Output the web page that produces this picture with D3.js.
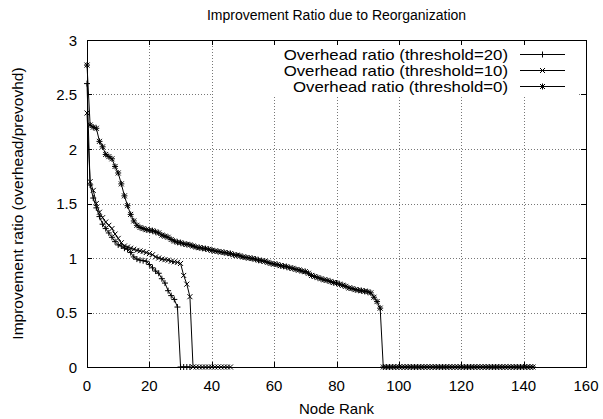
<!DOCTYPE html>
<html>
<head>
<meta charset="utf-8">
<script src="https://cdn.jsdelivr.net/npm/d3@7"></script>
<style>
  html, body { margin: 0; padding: 0; background: #fff; }
  svg { display: block; font-family: "Liberation Sans", Arial, Helvetica, sans-serif; }
</style>
</head>
<body>
<svg id="chart" width="603" height="419"></svg>
<script>
// Improvement ratio per node, sorted by rank (index = node rank)
const ratioT20 = [
  2.60, 1.67, 1.55, 1.46, 1.38, 1.31, 1.27, 1.23, 1.19, 1.15,
  1.12, 1.11, 1.09, 1.08, 1.05, 1.01, 0.99, 0.98, 0.975, 0.97,
  0.94, 0.91, 0.88, 0.86, 0.81, 0.77, 0.70, 0.655, 0.62, 0.55,
  0, 0, 0, 0
];
const ratioT10 = [
  2.33, 1.70, 1.62, 1.50, 1.42, 1.37, 1.33, 1.30, 1.27, 1.22,
  1.18, 1.14, 1.11, 1.10, 1.09, 1.08, 1.07, 1.065, 1.06, 1.05,
  1.04, 1.03, 1.01, 1.00, 0.99, 0.985, 0.98, 0.97, 0.965, 0.96,
  0.95, 0.84, 0.76, 0.645,
  0, 0, 0, 0, 0, 0, 0, 0, 0, 0, 0, 0, 0
];
const ratioT0 = [
  2.77, 2.22, 2.20, 2.19, 2.07, 2.02, 1.95, 1.93, 1.91, 1.84,
  1.78, 1.68, 1.57, 1.48, 1.40, 1.34, 1.30, 1.28, 1.27, 1.26,
  1.255, 1.25, 1.24, 1.23, 1.21, 1.20, 1.19, 1.17, 1.155, 1.145,
  1.14, 1.13, 1.125, 1.12, 1.11, 1.10, 1.095, 1.09, 1.085, 1.08,
  1.07, 1.065, 1.06, 1.055, 1.05, 1.045, 1.04, 1.03, 1.025, 1.02,
  1.01, 1.005, 1.00, 0.995, 0.99, 0.98, 0.975, 0.97, 0.96, 0.95,
  0.945, 0.94, 0.93, 0.925, 0.92, 0.91, 0.905, 0.895, 0.89, 0.88,
  0.875, 0.86, 0.84, 0.83, 0.82, 0.81, 0.80, 0.795, 0.785, 0.775,
  0.77, 0.76, 0.75, 0.74, 0.725, 0.72, 0.71, 0.705, 0.70, 0.695,
  0.69, 0.68, 0.64, 0.60, 0.54,
  0, 0, 0, 0, 0, 0, 0, 0, 0, 0,
  0, 0, 0, 0, 0, 0, 0, 0, 0, 0,
  0, 0, 0, 0, 0, 0, 0, 0, 0, 0,
  0, 0, 0, 0, 0, 0, 0, 0, 0, 0,
  0, 0, 0, 0, 0, 0, 0, 0, 0
];

const xTicks = [0, 20, 40, 60, 80, 100, 120, 140, 160];
const yTicks = [0, 0.5, 1, 1.5, 2, 2.5, 3];
const yTickLabels = ["0", "0.5", "1", "1.5", "2", "2.5", "3"];

const seriesNames = [
  "Overhead ratio (threshold=20)",
  "Overhead ratio (threshold=10)",
  "Overhead ratio (threshold=0)"
];
const seriesValues = [ratioT20, ratioT10, ratioT0];
const seriesMarkers = ["plus", "cross", "star"];

const titleText = "Improvement Ratio due to Reorganization";
const xTitle = "Node Rank";
const yTitle = "Improvement ratio (overhead/prevovhd)";

const svg = d3.select("#chart");
const plotL = 87, plotR = 586, plotT = 40, plotB = 367;

const x = d3.scaleLinear().domain([0, 160]).range([plotL, plotR]);
const y = d3.scaleLinear().domain([0, 3]).range([plotB, plotT]);

// marker shapes, gnuplot style
const markerPath = {
  plus: "M-3,0H3M0,-3V3",
  cross: "M-2.5,-2.5L2.5,2.5M-2.5,2.5L2.5,-2.5",
  star: "M-3,0H3M0,-3V3M-2.5,-2.5L2.5,2.5M-2.5,2.5L2.5,-2.5"
};

// dotted grid
const grid = svg.append("g").attr("stroke", "#777").attr("stroke-width", 1)
  .attr("stroke-dasharray", "1,2").attr("shape-rendering", "crispEdges");
grid.selectAll("line.gx").data(xTicks.slice(1, -1)).join("line")
  .attr("x1", d => Math.round(x(d)) + 0.5).attr("x2", d => Math.round(x(d)) + 0.5)
  .attr("y1", plotT).attr("y2", plotB);
grid.selectAll("line.gy").data(yTicks.slice(1, -1)).join("line")
  .attr("y1", d => Math.round(y(d)) + 0.5).attr("y2", d => Math.round(y(d)) + 0.5)
  .attr("x1", plotL).attr("x2", plotR);

// key background
const keyRight = 508, keyLineX1 = 520, keyLineX2 = 565, keyY0 = 54.5, keyDy = 16;
svg.append("rect").attr("x", 213).attr("y", plotT + 1).attr("width", 365).attr("height", 56)
  .attr("fill", "#fff");

// curves
const line = d3.line().x((d, i) => x(i)).y(d => y(d));
seriesValues.forEach((vals, k) => {
  const g = svg.append("g");
  g.append("path").datum(vals).attr("d", line)
    .attr("fill", "none").attr("stroke", "#000").attr("stroke-width", 1);
  g.selectAll("path.m").data(vals).join("path").attr("class", "m")
    .attr("transform", (d, i) => `translate(${x(i)},${y(d)})`)
    .attr("d", markerPath[seriesMarkers[k]])
    .attr("fill", "none").attr("stroke", "#000").attr("stroke-width", 1);
});

// frame
svg.append("rect").attr("x", plotL + 0.5).attr("y", plotT + 0.5)
  .attr("width", plotR - plotL).attr("height", plotB - plotT)
  .attr("fill", "none").attr("stroke", "#000").attr("stroke-width", 1)
  .attr("shape-rendering", "crispEdges");

// inward ticks on all four sides
const ticks = svg.append("g").attr("stroke", "#000").attr("stroke-width", 1)
  .attr("shape-rendering", "crispEdges");
xTicks.forEach(t => {
  const px = Math.round(x(t)) + 0.5;
  ticks.append("line").attr("x1", px).attr("x2", px).attr("y1", plotB).attr("y2", plotB - 5);
  ticks.append("line").attr("x1", px).attr("x2", px).attr("y1", plotT).attr("y2", plotT + 5);
});
yTicks.forEach(t => {
  const py = Math.round(y(t)) + 0.5;
  ticks.append("line").attr("y1", py).attr("y2", py).attr("x1", plotL).attr("x2", plotL + 5);
  ticks.append("line").attr("y1", py).attr("y2", py).attr("x1", plotR).attr("x2", plotR - 5);
});

// tick labels
svg.append("g").selectAll("text").data(xTicks).join("text")
  .attr("x", d => x(d)).attr("y", 391).attr("text-anchor", "middle")
  .attr("font-size", 15).text(d => d);
svg.append("g").selectAll("text").data(yTicks).join("text")
  .attr("x", 77).attr("y", d => y(d) + 5.5).attr("text-anchor", "end")
  .attr("font-size", 15).text((d, i) => yTickLabels[i]);

// titles
svg.append("text").attr("x", (plotL + plotR) / 2).attr("y", 20).attr("text-anchor", "middle")
  .attr("font-size", 14).text(titleText);
svg.append("text").attr("x", (plotL + plotR) / 2).attr("y", 414).attr("text-anchor", "middle")
  .attr("font-size", 15).text(xTitle);
svg.append("text").attr("transform", `translate(23,${(plotT + plotB) / 2}) rotate(-90)`)
  .attr("text-anchor", "middle").attr("font-size", 15.5).text(yTitle);

// key: wide, compact type so the three rows sit close together
const keyFont = 14.2, keyWideFont = 16.8;
seriesNames.forEach((name, k) => {
  const yy = keyY0 + k * keyDy;
  const probe = svg.append("text").attr("font-size", keyWideFont).text(name);
  const wideLen = probe.node().getComputedTextLength();
  probe.remove();
  svg.append("text").attr("x", keyRight).attr("y", yy + 5.2).attr("text-anchor", "end")
    .attr("font-size", keyFont)
    .attr("textLength", wideLen).attr("lengthAdjust", "spacingAndGlyphs")
    .text(name);
  svg.append("line").attr("x1", keyLineX1).attr("x2", keyLineX2).attr("y1", yy).attr("y2", yy)
    .attr("stroke", "#000").attr("stroke-width", 1);
  svg.append("path").attr("transform", `translate(${(keyLineX1 + keyLineX2) / 2},${yy})`)
    .attr("d", markerPath[seriesMarkers[k]]).attr("fill", "none")
    .attr("stroke", "#000").attr("stroke-width", 1);
});
</script>
</body>
</html>
